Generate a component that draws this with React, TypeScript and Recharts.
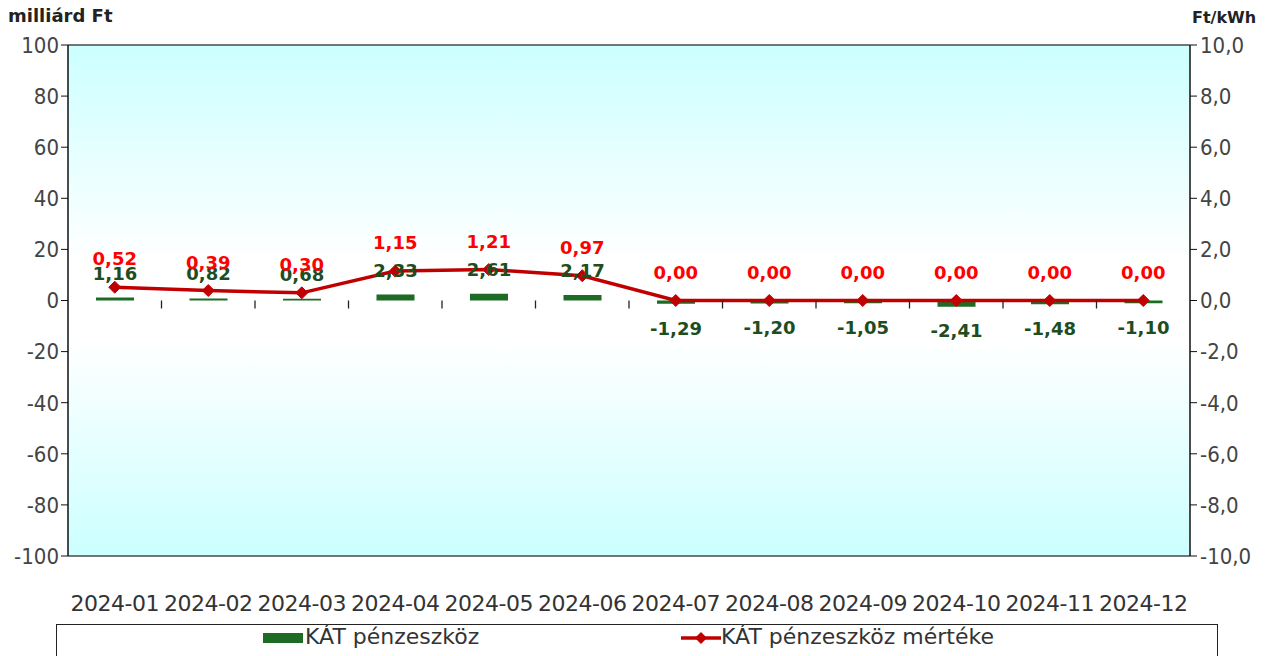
import { ComposedChart, Bar, Line, XAxis, YAxis, CartesianGrid, LabelList } from 'recharts';

const months = ['2024-01', '2024-02', '2024-03', '2024-04', '2024-05', '2024-06', '2024-07', '2024-08', '2024-09', '2024-10', '2024-11', '2024-12'];
const funds = [1.16, 0.82, 0.68, 2.33, 2.61, 2.17, -1.29, -1.2, -1.05, -2.41, -1.48, -1.1];
const rates = [0.52, 0.39, 0.3, 1.15, 1.21, 0.97, 0, 0, 0, 0, 0, 0];
const leftTicks = [-100, -80, -60, -40, -20, 0, 20, 40, 60, 80, 100];
const rightTicks = [-10, -8, -6, -4, -2, 0, 2, 4, 6, 8, 10];

const data = months.map((m, i) => ({ month: m, fund: funds[i], rate: rates[i] }));

const comma = (v: number, d: number) => v.toFixed(d).replace('.', ',');

const GREEN = '#1d6b25';
const RED = '#c00000';

// plot layout
const PLOT_TOP = 45;
const X_AXIS_H = 64;
const BOTTOM_M = 36;
const CHART_H = 656;
const PLOT_BOTTOM = CHART_H - BOTTOM_M - X_AXIS_H;
const ZERO_Y = (PLOT_TOP + PLOT_BOTTOM) / 2; // symmetric domain

const Diamond = (props: any) => {
  const { cx, cy } = props;
  if (cx == null || cy == null) return null;
  const s = 6;
  return <polygon points={`${cx},${cy - s} ${cx + s},${cy} ${cx},${cy + s} ${cx - s},${cy}`} fill={RED} stroke={RED} />;
};

// month label at bottom + small boundary tick on the zero line
const MonthTick = (props: any) => {
  const { x, y, payload, index } = props;
  const half = payload?.offset ?? 0;
  return (
    <g>
      {index > 0 && <line x1={x - half} y1={ZERO_Y} x2={x - half} y2={ZERO_Y + 8} stroke="#222" strokeWidth={1.3} />}
      <text x={x} y={y} dy="0.71em" textAnchor="middle" fill="#333" fontSize={22} fontFamily="DejaVu Sans" letterSpacing={-0.5}>
        {payload.value}
      </text>
    </g>
  );
};

export default function App() {
  return (
    <div style={{ position: 'relative', width: 1274, height: 656, overflow: 'hidden', background: '#fff' }}>
      <style>{'body{margin:0}'}</style>
      <div style={{ position: 'absolute', left: 8, top: 5, fontFamily: 'DejaVu Sans', fontWeight: 'bold', fontSize: 18, color: '#222' }}>
        milliárd Ft
      </div>
      <div style={{ position: 'absolute', left: 1192, top: 8, fontFamily: 'DejaVu Sans', fontWeight: 'bold', fontSize: 16, color: '#222' }}>
        Ft/kWh
      </div>
      <ComposedChart width={1274} height={CHART_H} data={data} margin={{ top: PLOT_TOP, right: 0, bottom: BOTTOM_M, left: 0 }}>
        <defs>
          <linearGradient id="bg" x1="0" y1="0" x2="0" y2="1">
            <stop offset="0%" stopColor="#ccffff" />
            <stop offset="42%" stopColor="#ffffff" />
            <stop offset="58%" stopColor="#ffffff" />
            <stop offset="100%" stopColor="#ccffff" />
          </linearGradient>
        </defs>
        <CartesianGrid vertical={false} stroke="#4a4a4a" strokeWidth={1.3} fill="url(#bg)" fillOpacity={1} />
        <XAxis
          dataKey="month"
          height={X_AXIS_H}
          axisLine={false}
          tickLine={false}
          tickMargin={33}
          interval={0}
          tick={<MonthTick />}
        />
        <YAxis
          yAxisId="left"
          width={68}
          domain={[-100, 100]}
          ticks={leftTicks}
          interval={0}
          axisLine={{ stroke: '#111', strokeWidth: 1.5 }}
          tickLine={{ stroke: '#111' }}
          tickSize={7}
          tickMargin={2}
          tick={{ fill: '#444', fontSize: 22, fontFamily: 'DejaVu Sans Condensed' }}
        />
        <YAxis
          yAxisId="right"
          orientation="right"
          width={84}
          domain={[-10, 10]}
          ticks={rightTicks}
          interval={0}
          tickFormatter={(v: number) => comma(v, 1)}
          axisLine={{ stroke: '#111', strokeWidth: 1.5 }}
          tickLine={{ stroke: '#111' }}
          tickSize={7}
          tickMargin={3}
          tick={{ fill: '#444', fontSize: 22, fontFamily: 'DejaVu Sans Condensed', textAnchor: 'start' }}
        />
        <Bar yAxisId="left" dataKey="fund" fill={GREEN} barSize={38} isAnimationActive={false}>
          <LabelList
            dataKey="fund"
            position="top"
            offset={18}
            formatter={(v: any) => comma(Number(v), 2)}
            style={{ fill: '#1e4d20', fontSize: 18, fontWeight: 'bold', fontFamily: 'DejaVu Sans' }}
          />
        </Bar>
        <Line
          yAxisId="right"
          dataKey="rate"
          stroke={RED}
          strokeWidth={3.5}
          dot={<Diamond />}
          activeDot={false}
          isAnimationActive={false}
        >
          <LabelList
            dataKey="rate"
            position="top"
            offset={22}
            formatter={(v: any) => comma(Number(v), 2)}
            style={{ fill: '#ff0000', fontSize: 18, fontWeight: 'bold', fontFamily: 'DejaVu Sans' }}
          />
        </Line>
      </ComposedChart>
      <div
        style={{
          position: 'absolute',
          left: 56,
          top: 624,
          width: 1160,
          height: 60,
          border: '1.5px solid #222',
          fontFamily: 'DejaVu Sans',
          fontSize: 22,
          color: '#333',
        }}
      >
        <div style={{ position: 'absolute', left: 206, top: 8, width: 40, height: 10, background: GREEN }} />
        <div style={{ position: 'absolute', left: 248, top: -1 }}>KÁT pénzeszköz</div>
        <svg style={{ position: 'absolute', left: 624, top: 3 }} width={40} height={20}>
          <line x1={0} y1={10} x2={40} y2={10} stroke={RED} strokeWidth={3.5} />
          <polygon points="20,4 26,10 20,16 14,10" fill={RED} />
        </svg>
        <div style={{ position: 'absolute', left: 664, top: -1 }}>KÁT pénzeszköz mértéke</div>
      </div>
    </div>
  );
}
